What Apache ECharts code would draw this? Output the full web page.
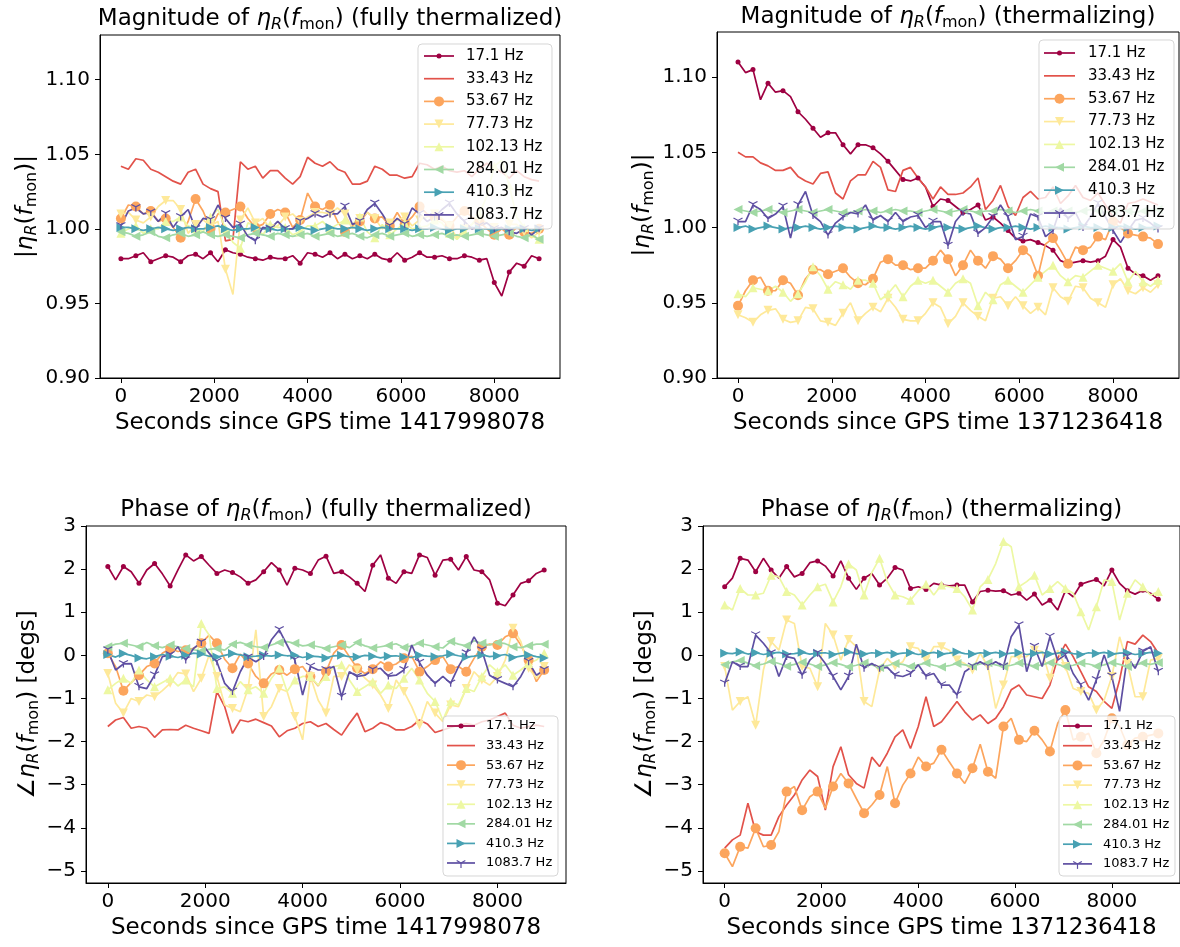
<!DOCTYPE html>
<html>
<head>
<meta charset="utf-8">
<script src="https://cdn.jsdelivr.net/npm/echarts@6/dist/echarts.min.js"></script>
<style>html,body{margin:0;padding:0;background:#fff}#c{width:1180px;height:947px}</style>
</head>
<body>
<div id="c"></div>
<script>
// ---------------- data ----------------
const times = [0,160,320,480,640,800,960,1120,1280,1440,1600,1760,1920,2080,2240,2400,2560,2720,2880,3040,3200,3360,3520,3680,3840,4000,4160,4320,4480,4640,4800,4960,5120,5280,5440,5600,5760,5920,6080,6240,6400,6560,6720,6880,7040,7200,7360,7520,7680,7840,8000,8160,8320,8480,8640,8800,8960];
const xTicks = [0, 2000, 4000, 6000, 8000];
const magTicks = [0.90, 0.95, 1.00, 1.05, 1.10];
const phaseTicks = [-5, -4, -3, -2, -1, 0, 1, 2, 3];
const names = ['17.1 Hz', '33.43 Hz', '53.67 Hz', '77.73 Hz', '102.13 Hz', '284.01 Hz', '410.3 Hz', '1083.7 Hz'];

// Magnitude, fully thermalized (GPS 1417998078)
const magFull17 = [0.980,0.980,0.982,0.984,0.978,0.980,0.982,0.981,0.978,0.982,0.983,0.980,0.984,0.978,0.986,0.984,0.983,0.981,0.980,0.979,0.981,0.980,0.980,0.982,0.977,0.984,0.983,0.981,0.984,0.980,0.983,0.980,0.982,0.980,0.983,0.980,0.979,0.984,0.979,0.981,0.984,0.981,0.981,0.982,0.980,0.980,0.982,0.981,0.979,0.980,0.964,0.955,0.971,0.977,0.975,0.982,0.980];
const magFull33 = [1.042,1.040,1.047,1.046,1.040,1.038,1.035,1.032,1.030,1.038,1.040,1.030,1.027,1.025,0.992,0.993,1.045,1.040,1.042,1.034,1.039,1.039,1.034,1.030,1.035,1.048,1.044,1.042,1.045,1.040,1.038,1.030,1.030,1.032,1.042,1.040,1.036,1.036,1.034,1.035,1.044,1.043,1.040,1.042,1.039,1.038,1.039,1.035,1.040,1.044,1.041,1.038,1.034,1.039,1.035,1.033,1.032];
const magFull53 = [1.007,1.016,1.015,1.010,1.012,1.005,1.007,1.001,0.994,1.005,1.020,1.012,1.000,1.010,1.011,1.013,1.015,1.007,1.001,1.003,1.010,1.013,1.011,1.001,1.006,1.024,1.015,1.013,1.016,1.005,0.998,1.002,1.005,1.011,1.007,1.008,1.002,1.011,1.003,1.008,1.015,1.010,1.008,1.006,1.002,1.008,1.012,1.008,1.005,1.000,0.996,1.000,0.996,1.001,0.998,0.997,1.000];
const magFull77 = [1.010,1.011,1.006,1.004,1.008,1.015,1.019,1.019,1.013,0.997,1.003,1.006,1.002,1.005,0.973,0.956,1.006,1.014,1.004,1.007,1.000,1.002,1.008,1.010,1.005,1.008,1.011,1.011,1.010,1.014,1.010,1.000,1.007,1.011,1.007,1.000,1.004,1.006,1.008,1.002,1.006,1.008,1.010,1.007,1.002,0.994,1.000,1.003,1.007,1.004,1.001,1.000,1.003,1.003,0.998,0.994,0.998];
const magFull102 = [0.997,1.000,1.002,0.997,1.000,1.000,1.005,1.005,1.008,1.002,1.000,0.998,1.008,1.013,1.000,0.991,0.987,1.004,1.002,0.996,1.003,1.001,1.001,0.996,0.998,1.002,1.002,1.005,1.000,1.003,1.006,1.003,1.008,0.998,0.994,1.003,0.996,1.000,1.004,1.000,1.001,1.002,1.006,1.004,0.997,0.993,0.998,1.003,1.010,1.022,1.042,1.046,1.029,1.008,1.001,0.995,0.993];
const magFull284 = [0.998,0.997,0.995,0.996,0.998,0.995,0.994,0.996,0.997,0.995,0.996,0.998,0.996,0.995,0.996,0.995,0.994,0.996,0.997,0.996,0.995,0.997,0.996,0.995,0.996,0.997,0.995,0.996,0.997,0.995,0.996,0.997,0.995,0.994,0.996,0.997,0.995,0.996,0.997,0.995,0.996,0.995,0.996,0.997,0.995,0.996,0.995,0.996,0.997,0.996,0.995,0.996,0.997,0.995,0.994,0.996,0.993];
const magFull410 = [1.001,1.001,1.000,0.999,1.000,1.001,1.000,0.999,1.000,1.001,1.000,1.000,1.001,1.002,1.000,0.999,1.000,1.000,1.001,1.000,1.000,0.999,1.000,1.000,1.001,1.000,0.999,1.000,1.001,1.000,1.000,1.001,1.000,0.999,1.000,1.001,1.000,1.000,1.000,0.999,1.000,1.000,1.001,1.000,0.999,1.000,1.000,1.001,1.000,1.000,0.999,1.000,1.000,1.001,1.000,0.999,1.000];
const magFull1083 = [1.002,1.012,1.014,1.010,1.011,1.005,1.010,1.001,1.008,1.013,1.000,1.007,1.006,1.016,1.007,1.001,1.003,0.995,0.992,1.001,1.000,1.005,1.000,1.000,1.005,1.007,1.010,1.008,1.010,1.010,1.015,1.003,1.005,1.013,1.017,1.010,1.002,1.007,1.003,1.014,1.010,1.005,1.008,1.013,1.017,1.010,1.005,1.000,1.002,1.004,1.000,1.001,0.998,0.997,1.000,0.996,1.000];

// Magnitude, thermalizing (GPS 1371236418)
const magTherm17 = [1.110,1.103,1.105,1.085,1.096,1.090,1.091,1.087,1.077,1.072,1.066,1.060,1.063,1.063,1.055,1.049,1.055,1.055,1.053,1.049,1.044,1.038,1.032,1.031,1.033,1.027,1.014,1.019,1.018,1.014,1.010,1.012,1.015,1.005,1.007,1.003,0.998,0.993,0.991,0.992,0.990,0.988,0.985,0.978,0.976,0.977,0.978,0.977,0.978,0.981,0.992,0.987,0.973,0.969,0.968,0.965,0.968];
const magTherm33 = [1.050,1.047,1.047,1.043,1.041,1.038,1.038,1.040,1.034,1.031,1.029,1.036,1.037,1.023,1.019,1.031,1.035,1.035,1.044,1.040,1.025,1.024,1.038,1.040,1.033,1.027,1.019,1.027,1.022,1.022,1.023,1.027,1.033,1.012,1.018,1.028,1.014,1.008,1.020,1.024,1.019,1.020,1.027,1.016,1.021,1.028,1.020,1.018,1.023,1.015,1.007,1.003,1.016,1.017,1.019,1.017,1.015];
const magTherm53 = [0.948,0.958,0.965,0.967,0.958,0.958,0.965,0.963,0.955,0.966,0.972,0.972,0.969,0.971,0.973,0.967,0.963,0.962,0.966,0.977,0.979,0.975,0.975,0.972,0.973,0.973,0.978,0.985,0.979,0.968,0.975,0.985,0.978,0.973,0.981,0.979,0.973,0.978,0.985,0.981,0.968,0.989,0.993,0.985,0.976,0.987,0.985,0.987,0.994,0.992,1.004,1.000,0.996,0.995,0.994,0.993,0.989];
const magTherm77 = [0.942,0.940,0.937,0.942,0.945,0.946,0.939,0.937,0.938,0.947,0.946,0.938,0.937,0.935,0.943,0.950,0.938,0.943,0.947,0.944,0.953,0.947,0.939,0.938,0.938,0.943,0.950,0.947,0.936,0.941,0.950,0.945,0.941,0.938,0.953,0.954,0.948,0.954,0.948,0.943,0.947,0.942,0.960,0.954,0.951,0.961,0.960,0.953,0.950,0.947,0.962,0.966,0.958,0.956,0.960,0.957,0.962];
const magTherm102 = [0.956,0.954,0.960,0.959,0.958,0.961,0.957,0.951,0.956,0.964,0.974,0.968,0.959,0.964,0.962,0.959,0.965,0.965,0.963,0.952,0.956,0.962,0.954,0.961,0.965,0.963,0.965,0.961,0.957,0.963,0.966,0.963,0.948,0.957,0.952,0.962,0.965,0.961,0.957,0.962,0.967,0.971,0.975,0.968,0.964,0.968,0.967,0.971,0.975,0.973,0.971,0.976,0.964,0.971,0.964,0.961,0.965];
const magTherm284 = [1.012,1.011,1.010,1.011,1.012,1.011,1.010,1.011,1.012,1.011,1.010,1.011,1.012,1.011,1.010,1.010,1.011,1.012,1.011,1.010,1.011,1.012,1.011,1.011,1.010,1.011,1.012,1.011,1.010,1.011,1.012,1.011,1.010,1.011,1.011,1.012,1.011,1.010,1.011,1.012,1.011,1.010,1.011,1.012,1.011,1.010,1.011,1.012,1.011,1.010,1.011,1.012,1.011,1.010,1.011,1.012,1.012];
const magTherm410 = [1.000,1.001,0.999,1.000,1.001,1.000,0.999,1.000,1.000,1.001,1.000,0.999,1.000,1.001,1.000,1.000,0.999,1.000,1.001,1.000,1.000,0.999,1.000,1.001,1.000,0.999,1.000,1.001,1.000,1.000,0.999,1.000,1.001,1.000,0.999,1.000,1.000,1.001,1.000,0.999,1.000,1.001,1.000,1.000,0.999,1.000,1.001,1.000,1.000,0.999,1.000,1.001,1.000,0.999,1.000,1.000,1.001];
const magTherm1083 = [1.004,1.004,1.015,1.012,1.006,1.009,1.014,0.993,1.015,1.024,1.008,1.004,0.995,1.003,1.007,1.010,1.009,1.015,1.005,1.008,1.004,1.010,1.004,1.007,1.008,1.000,1.004,1.004,0.988,1.004,1.010,1.009,0.996,1.000,1.007,1.015,1.007,0.992,0.994,1.009,1.007,0.994,0.998,1.013,1.006,1.010,1.000,1.007,1.016,1.007,0.998,0.990,0.998,1.005,1.006,1.003,0.999];

// Phase (degrees), fully thermalized
const phaseFull17 = [2.06,1.75,2.06,1.94,1.67,1.98,2.13,1.89,1.61,1.98,2.33,2.19,2.29,2.09,1.90,1.98,1.92,1.82,1.67,1.75,1.94,2.15,1.98,1.63,2.02,1.98,1.90,2.21,2.30,1.90,1.94,1.82,1.67,1.48,2.09,2.33,1.79,1.67,1.94,1.90,2.33,2.27,1.86,2.21,2.23,1.98,2.29,1.98,1.94,1.75,1.21,1.15,1.40,1.67,1.73,1.90,1.98];
const phaseFull33 = [-1.65,-1.50,-1.44,-1.69,-1.65,-1.69,-1.90,-1.73,-1.72,-1.73,-1.62,-1.69,-1.75,-1.81,-0.84,-1.19,-1.81,-1.50,-1.54,-1.48,-1.56,-1.64,-1.89,-1.75,-1.69,-1.58,-1.54,-1.65,-1.58,-1.72,-1.85,-1.58,-1.34,-1.77,-1.69,-1.56,-1.62,-1.73,-1.73,-1.65,-1.50,-1.59,-1.79,-1.73,-1.67,-1.62,-1.58,-1.62,-1.54,-1.50,-1.42,-1.34,-1.62,-1.69,-1.65,-1.62,-1.65];
const phaseFull53 = [0.05,-0.26,-0.82,-0.63,-0.46,-0.26,-0.19,0.05,0.16,0.09,0.12,0.16,0.28,0.47,0.28,-0.09,-0.30,0.03,-0.19,-0.49,-0.65,-0.43,-0.34,-0.46,-0.32,-0.26,-0.49,-0.71,-0.38,0.05,0.24,-0.03,-0.30,-0.42,-0.32,-0.15,-0.26,-0.20,-0.07,-0.02,-0.38,-0.26,-0.11,-0.03,-0.32,-0.26,-0.38,-0.07,0.20,0.26,0.24,0.43,0.51,0.24,-0.11,-0.61,-0.34];
const phaseFull77 = [-0.42,-1.11,-1.34,-1.00,-1.07,-0.92,-0.96,-0.82,-0.65,-0.40,-0.43,-0.84,-0.53,0.01,-0.49,-1.15,-1.23,-1.31,-0.77,0.59,-1.42,-1.19,-0.77,-0.84,-1.42,-1.96,-0.49,-1.04,-1.34,-0.49,-0.49,-0.22,-0.34,-0.53,-0.69,-0.92,-1.23,-0.57,-0.84,-1.19,-1.62,-1.07,-1.34,-1.54,-1.15,-1.19,-0.77,-0.38,-0.57,-0.69,-0.49,-0.11,0.63,0.32,-0.30,-0.53,-0.26];
const phaseFull102 = [-0.80,-0.65,-0.53,-0.65,-0.34,-0.57,-0.73,-0.63,-0.53,-0.71,-0.57,-0.73,0.74,0.47,-0.77,-0.73,-0.88,-0.61,-0.80,-0.73,-0.88,-0.53,-0.30,-0.84,-0.57,-0.49,-0.49,-0.69,-0.49,-0.26,-0.22,-0.57,-0.84,-0.73,-0.61,-0.88,-0.69,-0.77,-0.53,-0.30,-0.57,-0.88,-1.07,-1.50,-1.07,-1.15,-0.77,-0.84,-0.49,-0.22,-0.38,-0.22,-0.46,-0.34,-0.19,-0.11,0.05];
const phaseFull284 = [0.20,0.26,0.28,0.24,0.20,0.30,0.22,0.18,0.24,0.20,0.16,0.13,0.10,0.14,0.16,0.12,0.26,0.30,0.24,0.20,0.18,0.24,0.30,0.32,0.28,0.22,0.24,0.20,0.16,0.20,0.24,0.18,0.30,0.22,0.17,0.20,0.23,0.27,0.18,0.22,0.28,0.24,0.20,0.17,0.32,0.26,0.22,0.34,0.28,0.24,0.30,0.27,0.20,0.18,0.22,0.26,0.26];
const phaseFull410 = [0.02,-0.04,0.04,0.00,-0.06,-0.08,-0.03,0.02,-0.02,-0.05,0.00,0.05,0.03,-0.02,-0.04,0.00,0.04,0.01,-0.03,-0.02,0.00,-0.02,0.01,-0.01,0.00,-0.05,-0.02,-0.03,-0.06,-0.01,0.00,-0.03,-0.04,0.00,-0.02,-0.06,-0.02,-0.01,-0.04,-0.05,0.00,-0.02,-0.03,-0.01,0.03,-0.01,-0.04,-0.02,0.01,-0.03,-0.01,0.02,-0.05,-0.02,0.01,-0.03,-0.06];
const phaseFull1083 = [0.12,-0.34,-0.20,-0.19,-0.73,-0.77,-0.46,-0.03,0.01,0.20,-0.11,0.16,0.30,0.05,-0.15,-0.65,-0.84,-0.38,-0.05,-0.15,-0.03,0.36,0.59,0.24,-0.11,-0.92,-0.26,-0.34,-0.34,-0.26,-0.96,-0.38,-0.49,-0.46,-0.34,-0.30,-0.48,-0.46,-0.34,0.24,-0.17,-0.46,-0.65,-0.49,-0.65,-0.26,0.05,0.43,0.12,-0.46,-0.57,-0.65,-0.73,-0.49,-0.15,-0.46,-0.34];

// Phase (degrees), thermalizing
const phaseTherm17 = [1.59,1.79,2.25,2.21,1.94,2.25,1.98,1.79,2.06,1.82,1.90,2.15,2.19,2.07,1.84,2.19,1.79,1.53,1.79,1.90,1.63,1.79,2.04,1.98,1.55,1.59,1.53,1.67,1.63,1.61,1.63,1.63,1.24,1.48,1.51,1.49,1.50,1.40,1.44,1.28,1.42,1.17,1.28,1.05,1.50,1.36,1.65,1.71,1.76,1.61,1.98,1.67,1.50,1.42,1.51,1.44,1.30];
const phaseTherm33 = [-4.47,-4.28,-4.17,-3.43,-4.09,-4.17,-4.17,-3.74,-3.47,-3.24,-2.89,-2.66,-2.81,-3.59,-2.58,-2.12,-2.77,-2.97,-3.08,-2.36,-2.58,-2.27,-1.89,-1.73,-2.16,-1.65,-0.96,-1.65,-1.54,-1.31,-1.07,-1.31,-1.50,-1.38,-1.58,-1.46,-1.19,-0.80,-0.69,-0.92,-0.96,-1.00,-0.69,-0.07,0.26,-0.03,-0.38,-0.73,-0.84,-1.07,-1.23,-0.57,0.32,0.26,0.47,0.32,0.05];
const phaseTherm53 = [-4.59,-4.90,-4.44,-4.47,-4.01,-4.44,-4.40,-4.09,-3.16,-3.04,-3.59,-3.28,-3.16,-3.55,-3.04,-2.74,-2.97,-3.32,-3.66,-3.47,-3.24,-2.58,-3.43,-3.01,-2.74,-2.36,-2.58,-2.50,-2.19,-2.47,-2.74,-2.97,-2.62,-2.06,-2.70,-2.85,-1.65,-1.46,-1.96,-2.00,-1.75,-1.96,-2.23,-1.58,-1.27,-1.96,-1.89,-1.81,-2.27,-1.96,-1.46,-1.65,-2.08,-1.92,-1.89,-1.85,-1.81];
const phaseTherm77 = [-0.26,-1.27,-1.07,-0.96,-1.62,-0.34,0.32,0.12,0.82,0.74,-0.26,-0.30,-0.73,0.74,0.47,-0.11,0.37,0.20,-1.07,-1.19,-0.34,-0.07,-0.26,-0.15,0.20,0.16,-0.11,0.20,0.20,0.12,-0.11,-0.19,-0.34,0.05,-0.26,-1.23,-0.69,-0.03,-0.03,-0.03,0.12,0.09,-0.53,0.12,-0.26,-0.77,-0.84,-0.88,-1.27,-1.04,-0.49,0.43,-0.19,-0.96,-0.96,-0.11,-0.07];
const phaseTherm102 = [1.17,1.05,1.55,1.40,1.40,1.44,1.86,1.82,1.48,1.40,1.17,1.40,1.59,1.65,1.24,1.59,2.12,1.98,1.40,1.92,2.25,1.71,1.40,1.36,1.28,1.50,1.65,1.40,1.63,1.59,1.55,1.36,1.05,1.59,1.76,2.13,2.64,2.52,1.59,1.71,1.86,1.40,1.55,1.71,1.55,1.44,1.01,0.59,1.13,1.75,1.71,0.82,1.44,1.75,1.59,1.40,1.48];
const phaseTherm284 = [-0.22,-0.15,-0.12,-0.18,-0.24,-0.20,-0.14,-0.19,-0.25,-0.21,-0.16,-0.20,-0.26,-0.22,-0.17,-0.21,-0.27,-0.23,-0.18,-0.22,-0.28,-0.24,-0.19,-0.21,-0.26,-0.22,-0.18,-0.23,-0.27,-0.24,-0.19,-0.22,-0.25,-0.20,-0.17,-0.22,-0.26,-0.23,-0.18,-0.21,-0.25,-0.22,-0.17,-0.21,-0.26,-0.23,-0.18,-0.20,-0.25,-0.22,-0.17,-0.21,-0.26,-0.22,-0.18,-0.21,-0.17];
const phaseTherm410 = [0.05,0.04,0.08,0.03,0.06,0.02,0.05,0.07,0.03,0.04,0.07,0.03,0.05,0.06,0.02,0.05,0.08,0.04,0.03,0.06,0.04,0.07,0.03,0.05,0.06,0.02,0.04,0.07,0.03,0.05,0.08,0.04,0.03,0.06,0.04,0.07,0.03,0.05,0.06,0.02,0.04,0.07,0.03,0.05,0.08,0.04,0.02,0.06,0.04,0.07,0.03,0.05,0.06,0.02,0.04,0.07,0.05];
const phaseTherm1083 = [-0.65,-0.15,-0.26,-0.26,0.47,0.28,0.05,-0.49,-0.03,-0.07,-0.46,-0.11,0.05,-0.19,-0.49,-0.80,-0.49,0.26,-0.30,-0.19,-0.30,-0.28,-0.46,-0.49,-0.42,-0.22,-0.48,-0.42,-0.69,-0.69,-0.92,-0.38,-0.26,-0.15,-0.26,-0.15,-0.26,0.43,0.70,-0.38,0.20,-0.26,0.43,-0.11,0.01,-0.42,-0.69,-1.04,-0.57,0.01,-0.49,-1.30,-0.03,-0.30,0.09,0.20,-0.38];

// ---------------- styles ----------------
const FONT = 'DejaVu Sans';
const styles = [
  {color:'#9e0142', symbol:'circle', size:5, kind:'dot'},
  {color:'#e2524a', symbol:'none', size:0, kind:'none'},
  {color:'#fca55d', symbol:'circle', size:10, kind:'dot'},
  {color:'#fee99a', symbol:'triangle', rotate:180, size:9, kind:'tri'},
  {color:'#edf8a3', symbol:'triangle', rotate:0, size:9, kind:'tri'},
  {color:'#a1d9a4', symbol:'triangle', rotate:90, size:9, kind:'tri'},
  {color:'#48a1b3', symbol:'triangle', rotate:-90, size:9, kind:'tri'},
  {color:'#5e4fa2', symbol:'path://M-4.33 -2.5L0 0L4.33 -2.5M0 0L0 5', size:[9,8], kind:'y'}
];

const fmtMinus = v => (v < 0 ? '\u2212' + Math.abs(v) : String(v));

const panels = [
  {grid:{left:100, top:35, width:460, height:343}, min:0.9, max:1.13, ticks:magTicks, fmt:v=>v.toFixed(2),
   values:[magFull17,magFull33,magFull53,magFull77,magFull102,magFull284,magFull410,magFull1083],
   title:['Magnitude of ', ' (fully thermalized)'], titleY:19, xname:'Seconds since GPS time 1417998078', ykind:'mag', ylabelX:26,
   legend:{x:418, y:44, w:134, h:185, row0:56, dy:22.7, hx0:424, hx1:454, tx:466, fs:15}},
  {grid:{left:717, top:32, width:462, height:346}, min:0.9, max:1.13, ticks:magTicks, fmt:v=>v.toFixed(2),
   values:[magTherm17,magTherm33,magTherm53,magTherm77,magTherm102,magTherm284,magTherm410,magTherm1083],
   title:['Magnitude of ', ' (thermalizing)'], titleY:17, xname:'Seconds since GPS time 1371236418', ykind:'mag', ylabelX:643,
   legend:{x:1039, y:40, w:135, h:189, row0:53, dy:22.86, hx0:1044, hx1:1075, tx:1088, fs:15}},
  {grid:{left:86, top:526, width:480, height:357}, min:-5.28, max:3, ticks:phaseTicks, fmt:fmtMinus,
   values:[phaseFull17,phaseFull33,phaseFull53,phaseFull77,phaseFull102,phaseFull284,phaseFull410,phaseFull1083],
   title:['Phase of ', ' (fully thermalized)'], titleY:510, xname:'Seconds since GPS time 1417998078', ykind:'phase', ylabelX:28,
   legend:{x:443, y:716, w:115, h:160, row0:726, dy:19.57, hx0:447, hx1:475, tx:486, fs:13}},
  {grid:{left:703, top:526, width:477, height:357}, min:-5.28, max:3, ticks:phaseTicks, fmt:fmtMinus,
   values:[phaseTherm17,phaseTherm33,phaseTherm53,phaseTherm77,phaseTherm102,phaseTherm284,phaseTherm410,phaseTherm1083],
   title:['Phase of ', ' (thermalizing)'], titleY:510, xname:'Seconds since GPS time 1371236418', ykind:'phase', ylabelX:645,
   legend:{x:1059, y:716, w:116, h:160, row0:726, dy:19.7, hx0:1063, hx1:1092, tx:1103, fs:13}}
];

function richStyles(S) {
  return {
    i:  {fontFamily:FONT, fontSize:S, fontStyle:'italic', fill:'#000', color:'#000'},
    si: {fontFamily:FONT, fontSize:Math.round(S*0.7), fontStyle:'italic', verticalAlign:'bottom', lineHeight:Math.round(S*0.6), fill:'#000', color:'#000'},
    s:  {fontFamily:FONT, fontSize:Math.round(S*0.7), verticalAlign:'bottom', lineHeight:Math.round(S*0.6), fill:'#000', color:'#000'}
  };
}
const ETA = '{i|\u03b7}{si|R}({i|f}{s|mon})';

function textEl(x, y, text, S, rot) {
  return {
    type:'text', x:x, y:y, rotation:rot||0, z:120, silent:true,
    style:{text:text, rich:richStyles(S), fontFamily:FONT, fontSize:S, lineHeight:Math.round(S*1.2),
      fill:'#000', align:'center', verticalAlign:'middle', textAlign:'center', textVerticalAlign:'middle'}
  };
}

function rotPts(pts, deg) {
  const t = deg*Math.PI/180, c = Math.cos(t), s = Math.sin(t);
  return pts.map(p => [p[0]*c + p[1]*s, -p[0]*s + p[1]*c]);
}

function legendMarker(st, cx, cy) {
  if (st.kind === 'dot') return [{type:'circle', z:112, silent:true, shape:{cx:cx, cy:cy, r:st.size/2}, style:{fill:st.color}}];
  if (st.kind === 'tri') {
    const h = st.size/2;
    const pts = rotPts([[0,-h],[h,h],[-h,h]], st.rotate).map(p => [cx+p[0], cy+p[1]]);
    return [{type:'polygon', z:112, silent:true, shape:{points:pts}, style:{fill:st.color}}];
  }
  if (st.kind === 'y') {
    return [
      {type:'polyline', z:112, silent:true, shape:{points:[[cx-4.33,cy-2.5],[cx,cy],[cx+4.33,cy-2.5]]}, style:{stroke:st.color, lineWidth:1.2, fill:null}},
      {type:'line', z:112, silent:true, shape:{x1:cx, y1:cy, x2:cx, y2:cy+5}, style:{stroke:st.color, lineWidth:1.2}}
    ];
  }
  return [];
}

const grids = [], xAxes = [], yAxes = [], series = [], graphics = [];

panels.forEach((p, pi) => {
  grids.push(Object.assign({show:true, borderColor:'#000', borderWidth:1, backgroundColor:'rgba(0,0,0,0)'}, p.grid));
  xAxes.push({
    type:'value', gridIndex:pi, min:-448, max:9408,
    axisLine:{show:true, onZero:false, lineStyle:{color:'#000', width:1}},
    axisTick:{show:true, length:5, lineStyle:{color:'#000', width:1}, customValues:xTicks},
    axisLabel:{show:true, margin:9, fontFamily:FONT, fontSize:20, color:'#000', customValues:xTicks, formatter:v=>String(v)},
    splitLine:{show:false}
  });
  yAxes.push({
    type:'value', gridIndex:pi, min:p.min, max:p.max,
    axisLine:{show:true, onZero:false, lineStyle:{color:'#000', width:1}},
    axisTick:{show:true, length:5, lineStyle:{color:'#000', width:1}, customValues:p.ticks},
    axisLabel:{show:true, margin:10, fontFamily:FONT, fontSize:20, color:'#000', customValues:p.ticks, formatter:p.fmt},
    splitLine:{show:false}
  });
  p.values.forEach((vals, si) => {
    const st = styles[si];
    const item = st.kind === 'y'
      ? {color:'rgba(0,0,0,0)', borderColor:st.color, borderWidth:1.2}
      : {color:st.color, borderWidth:0};
    series.push({
      type:'line', name:names[si], xAxisIndex:pi, yAxisIndex:pi,
      data: times.map((t, i) => [t, vals[i]]),
      symbol: st.symbol, symbolRotate: st.rotate || 0, symbolKeepAspect:true,
      symbolSize: (v, params) => (params.dataIndex % 2 === 0 ? st.size : 0),
      showSymbol: st.kind !== 'none', showAllSymbol:true,
      lineStyle:{color:st.color, width:1.7},
      itemStyle:item,
      emphasis:{disabled:true}, silent:true, animation:false, clip:true
    });
  });

  // titles, axis names
  const cx = p.grid.left + p.grid.width/2;
  const cy = p.grid.top + p.grid.height/2;
  graphics.push(textEl(cx, p.titleY, p.title[0] + ETA + p.title[1], 23, 0));
  graphics.push(textEl(cx, p.grid.top + p.grid.height + 45, p.xname, 23, 0));
  const ytext = p.ykind === 'mag' ? '|' + ETA + '|' : '\u2220' + ETA + ' [degs]';
  graphics.push(textEl(p.ylabelX, cy, ytext, 23, Math.PI/2));

  // legend
  const L = p.legend;
  graphics.push({type:'rect', z:110, silent:true, shape:{x:L.x, y:L.y, width:L.w, height:L.h, r:4},
    style:{fill:'rgba(255,255,255,0.8)', stroke:'rgba(204,204,204,0.8)', lineWidth:1}});
  names.forEach((nm, si) => {
    const st = styles[si];
    const ry = L.row0 + si*L.dy;
    graphics.push({type:'line', z:111, silent:true, shape:{x1:L.hx0, y1:ry, x2:L.hx1, y2:ry}, style:{stroke:st.color, lineWidth:1.7}});
    legendMarker(st, (L.hx0+L.hx1)/2, ry).forEach(g => graphics.push(g));
    graphics.push({type:'text', z:112, silent:true, x:L.tx, y:ry,
      style:{text:nm, fontFamily:FONT, fontSize:L.fs, fill:'#000', align:'left', verticalAlign:'middle', textAlign:'left', textVerticalAlign:'middle'}});
  });
});

const chart = echarts.init(document.getElementById('c'), null, {renderer:'canvas'});
chart.setOption({
  animation:false,
  backgroundColor:'#fff',
  grid:grids, xAxis:xAxes, yAxis:yAxes, series:series,
  graphic:{elements:graphics}
});
</script>
</body>
</html>
